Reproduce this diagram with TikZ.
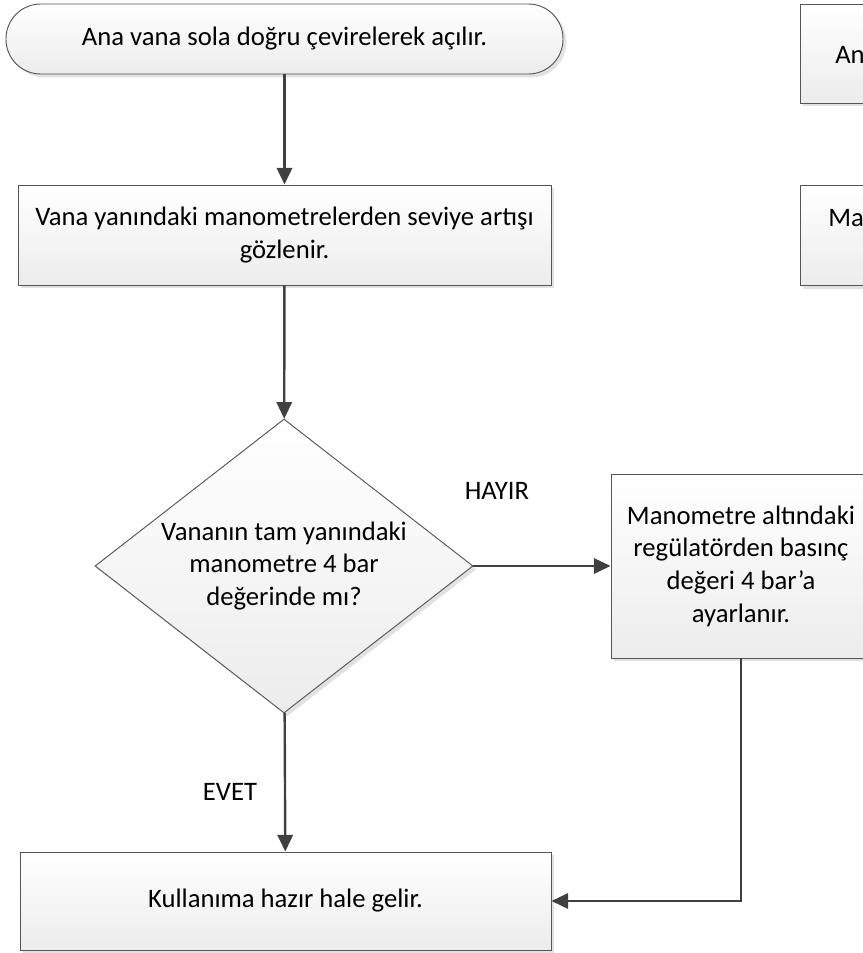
\documentclass[tikz,border=0pt]{standalone}
\usepackage{fontspec}
\setmainfont{Carlito}
\usepackage{tikz}
\usetikzlibrary{arrows.meta,shapes.geometric,shadows}
\definecolor{inkgrey}{HTML}{404040}
\definecolor{edgegrey}{HTML}{555555}
\definecolor{boxshade}{HTML}{ECECEC}
\definecolor{shadowgrey}{HTML}{E2E2E2}
\tikzset{
  fl/.style={align=center, font=\fontsize{20}{24.5}\selectfont, inner sep=2pt, draw=edgegrey, line width=0.7pt,
             top color=white, bottom color=boxshade,
             drop shadow={shadow xshift=2.5pt, shadow yshift=-2.5pt, fill=shadowgrey, opacity=1}},
  fl term/.style={fl, rounded corners=26pt, minimum width=417.75pt, minimum height=52.5pt},
  fl proc/.style={fl, minimum width=399.75pt, minimum height=75pt},
  fl dec/.style={fl, diamond, aspect=1.286, inner sep=-3pt, minimum width=283.5pt, minimum height=220.5pt},
  fl side/.style={fl, minimum width=225pt},
  fl arr/.style={-{Triangle[length=12.5pt, width=11.5pt]}, line width=1.8pt, inkgrey},
  fl lbl/.style={font=\fontsize{20}{24.5}\selectfont, inner sep=0pt},
}
\begin{document}
\begin{tikzpicture}[x=0.75pt, y=-0.75pt]
  \path[use as bounding box, clip] (0,0) rectangle (863,953);
  % main column
  \node[fl term] (open) at (284.5,39) {Ana vana sola doğru çevirelerek açılır.};
  \node[fl proc] (watch) at (284.5,235) {Vana yanındaki manometrelerden seviye artışı\\gözlenir.};
  \node[fl dec] (check) at (284,566) {Vananın tam yanındaki\\manometre 4 bar\\değerinde mı?};
  \node[fl proc, minimum width=398.25pt, minimum height=73.5pt] (ready) at (285.5,901) {Kullanıma hazır hale gelir.};
  % side branch
  \node[fl, minimum width=195pt, minimum height=138pt] (adjust) at (741,566) {Manometre altındaki\\regülatörden basınç\\değeri 4 bar’a\\ayarlanır.};
  \node[fl lbl] (no) at (497,491) {HAYIR};
  \node[fl lbl] (yes) at (230,792) {EVET};
  % cut-off column on the right
  \node[fl side, minimum height=74.25pt] (sideA) at (950,53.5) {};
  \node[fl side, minimum height=75pt] (sideB) at (950,235.5) {};
  \node[fl lbl, anchor=west] (sideAtxt) at (835,55) {An};
  \node[fl lbl, anchor=west] (sideBtxt) at (828,218) {Ma};
  \draw[fl arr] (open) -- (watch);
  \draw[fl arr] (watch) -- (check);
  \draw[fl arr] (check) -- (adjust);
  \draw[fl arr] (check) -- (ready);
  \draw[fl arr] (adjust.south) |- (ready.east);
\end{tikzpicture}
\end{document}
